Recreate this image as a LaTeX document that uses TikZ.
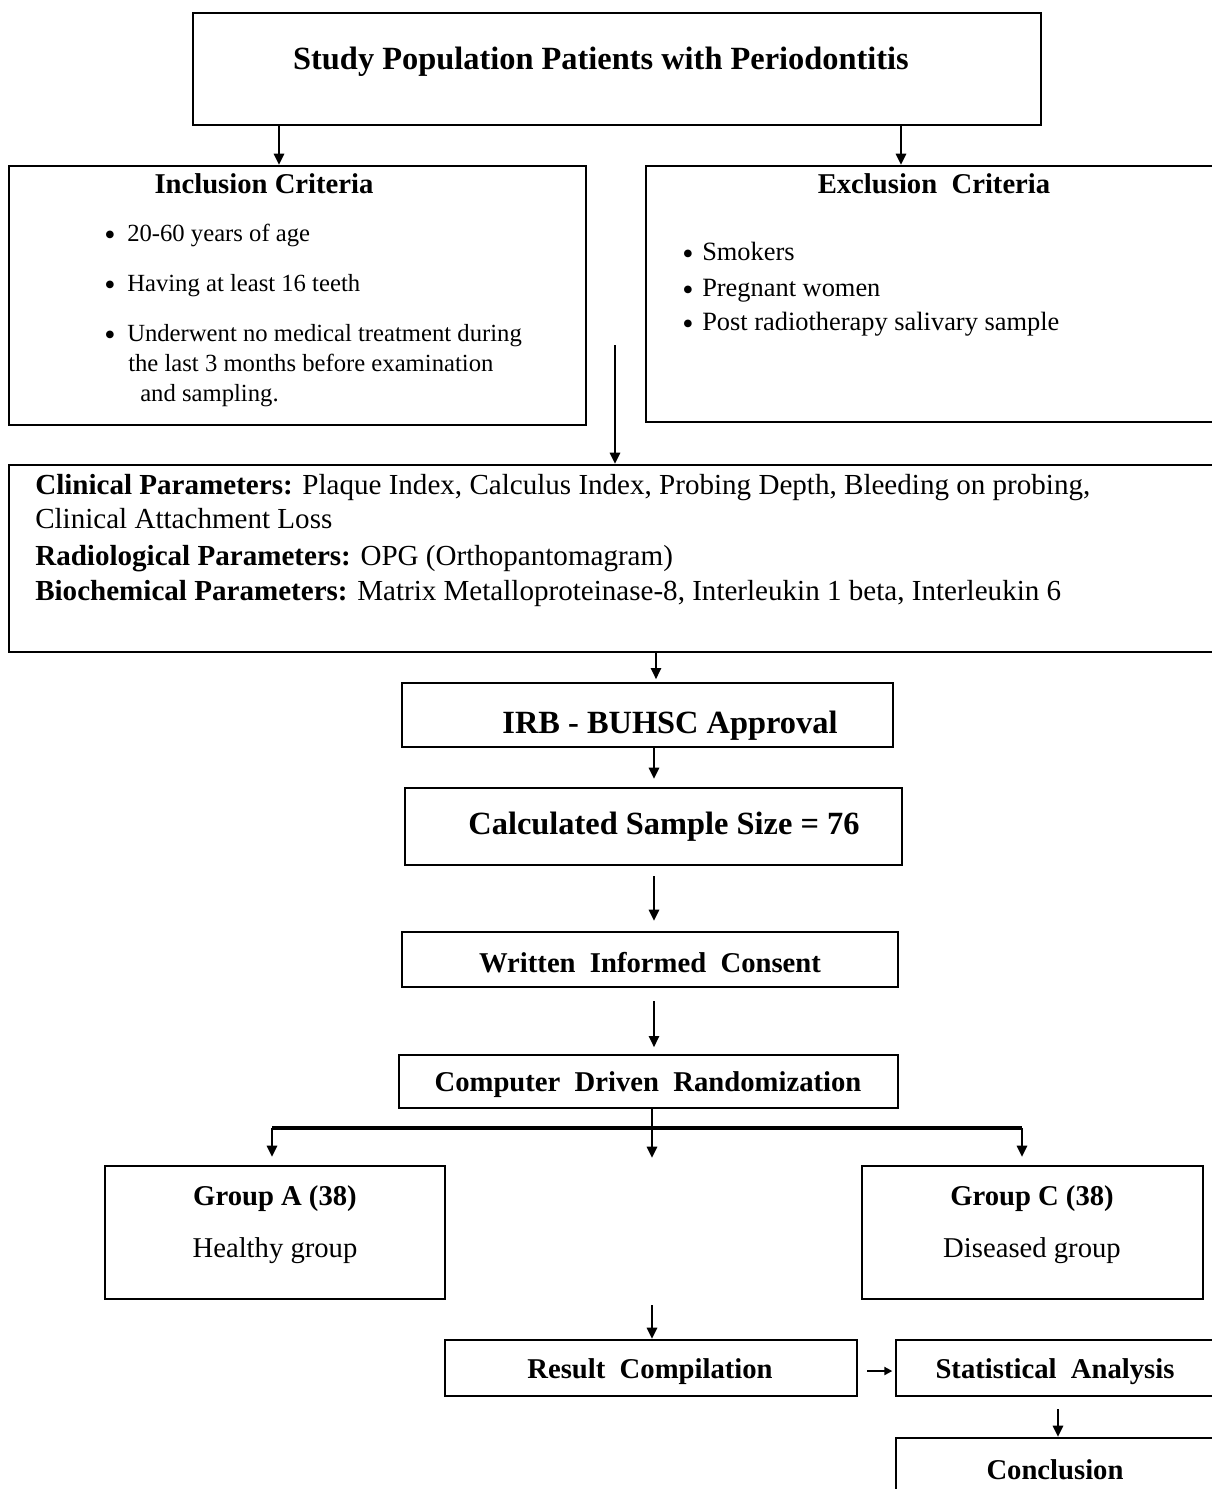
\documentclass[tikz,border=0pt]{standalone}
\usepackage{fontspec}
\setmainfont{Liberation Serif}
\usetikzlibrary{arrows.meta,fit}

\begin{document}
\begin{tikzpicture}[x=0.75pt,y=-0.75pt,
  box/.style={draw, line width=1.5pt, inner sep=0pt},
  arr/.style={line width=2pt, -{Triangle[length=8.5pt,width=7.5pt]}},
  smallarr/.style={line width=2pt, -{Triangle[length=6pt,width=6pt]}},
  bar/.style={line width=2.6pt},
  finc/.style={inner sep=0pt, font=\fontsize{18.5}{22}\selectfont},
  fexc/.style={inner sep=0pt, font=\fontsize{19.8}{24}\selectfont},
  fclin/.style={inner sep=0pt, font=\fontsize{21.8}{26}\selectfont},
  fdot/.style={inner sep=0pt, font=\fontsize{24}{26}\selectfont},
  fhead/.style={inner sep=0pt, font=\fontsize{21.5}{26}\selectfont\bfseries},
  fplain/.style={inner sep=0pt, font=\fontsize{21.5}{26}\selectfont},
  ftitle/.style={inner sep=0pt, font=\fontsize{24.3}{29}\selectfont\bfseries},
]
\useasboundingbox (0,0) rectangle (1212,1489);
\clip (0,0) rectangle (1212,1489);

% ---------- boxes ----------
\node[box, fit={(193,13) (1041,125)}] (top) {};
\node[box, fit={(9,166) (586,425)}] (incl) {};
\node[box, fit={(646,166) (1240,422)}] (excl) {};
\node[box, fit={(9,465) (1240,652)}] (clin) {};
\node[box, fit={(402,683) (893,747)}] (irb) {};
\node[box, fit={(405,788) (902,865)}] (calc) {};
\node[box, fit={(402,932) (898,987)}] (cons) {};
\node[box, fit={(399,1055) (898,1108)}] (rand) {};
\node[box, fit={(105,1166) (445,1299)}] (grpA) {};
\node[box, fit={(862,1166) (1203,1299)}] (grpC) {};
\node[box, fit={(445,1340) (857,1396)}] (res) {};
\node[box, fit={(896,1340) (1240,1396)}] (stat) {};
\node[box, fit={(896,1438) (1240,1530)}] (concl) {};

% ---------- texts ----------
\node[ftitle] (tTop) at (601,62) {Study Population Patients with Periodontitis};

\node[fhead] (tIncl) at (264,184) {Inclusion Criteria};
\foreach \yy/\txt [count=\i] in {238/20-60 years of age, 288/Having at least 16 teeth, 338/Underwent no medical treatment during}{
  \node[fdot, anchor=mid] (bi\i) at (110,\yy+4) {\textbullet};
  \node[finc, anchor=mid west] (ti\i) at (127,\yy) {\txt};
}
\node[finc, anchor=mid west] (ti4) at (128,368) {the last 3 months before examination};
\node[finc, anchor=mid west] (ti5) at (140,398) {and sampling.};

\node[fhead] (tExcl) at (934,184) {Exclusion\ \ Criteria};
\foreach \yy/\txt [count=\i] in {257/Smokers, 293/Pregnant women, 327/Post radiotherapy salivary sample}{
  \node[fdot, anchor=mid] (be\i) at (688,\yy+4) {\textbullet};
  \node[fexc, anchor=mid west] (te\i) at (702,\yy) {\txt};
}

\node[fclin, anchor=mid west] (tc1) at (35,491) {\textbf{Clinical Parameters:} Plaque Index, Calculus Index, Probing Depth, Bleeding on probing,};
\node[fclin, anchor=mid west] (tc2) at (35,525) {Clinical Attachment Loss};
\node[fclin, anchor=mid west] (tc3) at (35,562) {\textbf{Radiological Parameters:} OPG (Orthopantomagram)};
\node[fclin, anchor=mid west] (tc4) at (35,597) {\textbf{Biochemical Parameters:} Matrix Metalloproteinase-8, Interleukin 1 beta, Interleukin 6};

\node[ftitle] (tIrb) at (670,726) {IRB - BUHSC Approval};
\node[ftitle] (tCalc) at (664,827) {Calculated Sample Size = 76};
\node[fhead] (tCons) at (650,963) {Written\ \ Informed\ \ Consent};
\node[fhead] (tRand) at (648,1085) {Computer\ \ Driven\ \ Randomization};

\node[fhead] (tA1) at (275,1199) {Group A (38)};
\node[fplain] (tA2) at (275,1251) {Healthy group};
\node[fhead] (tC1) at (1032,1199) {Group C (38)};
\node[fplain] (tC2) at (1032,1251) {Diseased group};

\node[fhead] (tRes) at (650,1372) {Result\ \ Compilation};
\node[fhead] (tStat) at (1055,1372) {Statistical\ \ Analysis};
\node[fhead] (tConcl) at (1055,1470) {Conclusion};

% ---------- connectors ----------
\coordinate (xInc) at (279,0);
\coordinate (xExc) at (901,0);
\coordinate (merge) at (615,345);
\coordinate (xIrb) at (656,0);
\coordinate (xMid) at (654,0);
\coordinate (xRnd) at (652,0);
\coordinate (bl) at (272,1128);
\coordinate (br) at (1022,1128);
\coordinate (mid) at (652,1158);
\coordinate (resin) at (652,1305);
\coordinate (xStat) at (1058,0);

\draw[arr] (top.south -| xInc) -- (incl.north -| xInc);
\draw[arr] (top.south -| xExc) -- (excl.north -| xExc);
\draw[arr] (merge) -- (clin.north -| merge);
\draw[arr, shorten >=2pt] (clin.south -| xIrb) -- (irb.north -| xIrb);
\draw[arr, shorten >=6pt] (irb.south -| xMid) -- (calc.north -| xMid);
\draw[arr, shorten <=7.5pt, shorten >=7.5pt] (calc.south -| xMid) -- (cons.north -| xMid);
\draw[arr, shorten <=10pt, shorten >=5pt] (cons.south -| xMid) -- (rand.north -| xMid);

\draw[arr] (rand.south -| xRnd) -- (mid);
\draw[bar] (bl) -- (br);
\draw[arr, shorten >=6pt] (bl) -- (grpA.north -| bl);
\draw[arr, shorten >=6pt] (br) -- (grpC.north -| br);

\draw[arr] (resin) -- (res.north -| resin);
\draw[smallarr, shorten <=7pt, shorten >=2pt] (res.east |- 0,1371) -- (stat.west |- 0,1371);
\draw[arr, shorten <=9pt] (stat.south -| xStat) -- (concl.north -| xStat);
\end{tikzpicture}
\end{document}
